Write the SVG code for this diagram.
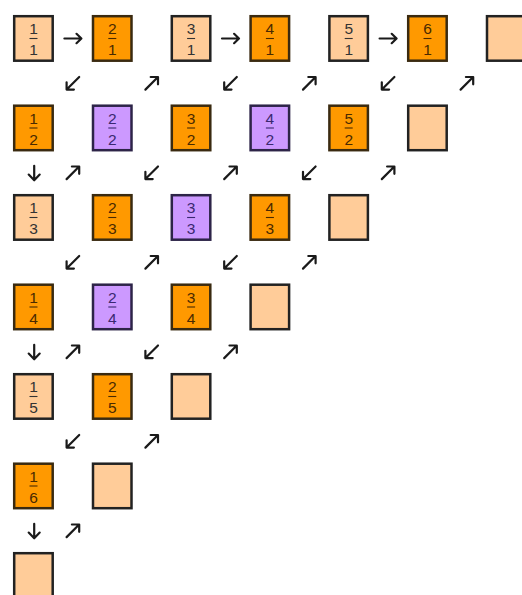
<svg xmlns="http://www.w3.org/2000/svg" xmlns:xlink="http://www.w3.org/1999/xlink" width="522" height="595" viewBox="0 0 522 595">
<style>
.box rect{stroke-width:2.5}
.l rect{fill:#FFCC99;stroke:#222}
.o rect{fill:#FF9900;stroke:#3a2a10}
.p rect{fill:#CC99FF;stroke:#2d2448}
.box text{font-family:"Liberation Sans",Arial,sans-serif;font-size:15.5px;text-anchor:middle}
.l text{fill:#333}
.o text{fill:#4a2a00}
.p text{fill:#3a2870}
.box line{stroke-width:1.1}
.l line{stroke:#333}
.o line{stroke:#4a2a00}
.p line{stroke:#3a2870}
.arr path{fill:none;stroke:#1a1a1a;stroke-width:2.2;stroke-linecap:round;stroke-linejoin:round}
</style>
<defs>
<g id="aR" class="arr"><path d="M-8.5,0H8.3M3.6,-4.7L8.5,0L3.6,4.7"/></g>
<g id="aD" class="arr"><path d="M0,-7V7.3M-5.5,1.8L0,7.5L5.5,1.8"/></g>
<g id="aSW" class="arr"><path d="M6.3,-6.3L-6,6M-6.3,-1V6.3H1"/></g>
<g id="aNE" class="arr"><path d="M-6.3,6.3L6,-6M-1,-6.3H6.3V1"/></g>
</defs>
<rect width="522" height="595" fill="#fff"/>
<g id="connectors">
<use xlink:href="#aR" x="72.9" y="38.5"/>
<use xlink:href="#aR" x="230.5" y="38.5"/>
<use xlink:href="#aR" x="388.1" y="38.5"/>
<use xlink:href="#aSW" x="72.9" y="83.3"/>
<use xlink:href="#aNE" x="151.7" y="83.3"/>
<use xlink:href="#aSW" x="230.5" y="83.3"/>
<use xlink:href="#aNE" x="309.3" y="83.3"/>
<use xlink:href="#aSW" x="388.1" y="83.3"/>
<use xlink:href="#aNE" x="466.9" y="83.3"/>
<use xlink:href="#aD" x="34.2" y="172.8"/>
<use xlink:href="#aNE" x="72.9" y="172.8"/>
<use xlink:href="#aSW" x="151.7" y="172.8"/>
<use xlink:href="#aNE" x="230.5" y="172.8"/>
<use xlink:href="#aSW" x="309.3" y="172.8"/>
<use xlink:href="#aNE" x="388.1" y="172.8"/>
<use xlink:href="#aSW" x="72.9" y="262.3"/>
<use xlink:href="#aNE" x="151.7" y="262.3"/>
<use xlink:href="#aSW" x="230.5" y="262.3"/>
<use xlink:href="#aNE" x="309.3" y="262.3"/>
<use xlink:href="#aD" x="34.2" y="351.8"/>
<use xlink:href="#aNE" x="72.9" y="351.8"/>
<use xlink:href="#aSW" x="151.7" y="351.8"/>
<use xlink:href="#aNE" x="230.5" y="351.8"/>
<use xlink:href="#aSW" x="72.9" y="441.3"/>
<use xlink:href="#aNE" x="151.7" y="441.3"/>
<use xlink:href="#aD" x="34.2" y="530.8"/>
<use xlink:href="#aNE" x="72.9" y="530.8"/>
</g>
<!-- row 1 -->
<g id="n1_1" class="box l"><rect x="14.2" y="16.2" width="38.5" height="44.5"/><text x="33.5" y="34">1</text><line x1="29.5" y1="38.5" x2="37.5" y2="38.5"/><text x="33.5" y="55">1</text></g>
<g id="n2_1" class="box o"><rect x="93" y="16.2" width="38.5" height="44.5"/><text x="112.3" y="34">2</text><line x1="108.3" y1="38.5" x2="116.3" y2="38.5"/><text x="112.3" y="55">1</text></g>
<g id="n3_1" class="box l"><rect x="171.8" y="16.2" width="38.5" height="44.5"/><text x="191.1" y="34">3</text><line x1="187.1" y1="38.5" x2="195.1" y2="38.5"/><text x="191.1" y="55">1</text></g>
<g id="n4_1" class="box o"><rect x="250.6" y="16.2" width="38.5" height="44.5"/><text x="269.9" y="34">4</text><line x1="265.9" y1="38.5" x2="273.9" y2="38.5"/><text x="269.9" y="55">1</text></g>
<g id="n5_1" class="box l"><rect x="329.4" y="16.2" width="38.5" height="44.5"/><text x="348.7" y="34">5</text><line x1="344.7" y1="38.5" x2="352.7" y2="38.5"/><text x="348.7" y="55">1</text></g>
<g id="n6_1" class="box o"><rect x="408.2" y="16.2" width="38.5" height="44.5"/><text x="427.5" y="34">6</text><line x1="423.5" y1="38.5" x2="431.5" y2="38.5"/><text x="427.5" y="55">1</text></g>
<g id="n7_1" class="box l"><rect x="487" y="16.2" width="38.5" height="44.5"/></g>
<!-- row 2 -->
<g id="n1_2" class="box o"><rect x="14.2" y="105.7" width="38.5" height="44.5"/><text x="33.5" y="123.5">1</text><line x1="29.5" y1="128" x2="37.5" y2="128"/><text x="33.5" y="144.5">2</text></g>
<g id="n2_2" class="box p"><rect x="93" y="105.7" width="38.5" height="44.5"/><text x="112.3" y="123.5">2</text><line x1="108.3" y1="128" x2="116.3" y2="128"/><text x="112.3" y="144.5">2</text></g>
<g id="n3_2" class="box o"><rect x="171.8" y="105.7" width="38.5" height="44.5"/><text x="191.1" y="123.5">3</text><line x1="187.1" y1="128" x2="195.1" y2="128"/><text x="191.1" y="144.5">2</text></g>
<g id="n4_2" class="box p"><rect x="250.6" y="105.7" width="38.5" height="44.5"/><text x="269.9" y="123.5">4</text><line x1="265.9" y1="128" x2="273.9" y2="128"/><text x="269.9" y="144.5">2</text></g>
<g id="n5_2" class="box o"><rect x="329.4" y="105.7" width="38.5" height="44.5"/><text x="348.7" y="123.5">5</text><line x1="344.7" y1="128" x2="352.7" y2="128"/><text x="348.7" y="144.5">2</text></g>
<g id="n6_2" class="box l"><rect x="408.2" y="105.7" width="38.5" height="44.5"/></g>
<!-- row 3 -->
<g id="n1_3" class="box l"><rect x="14.2" y="195.2" width="38.5" height="44.5"/><text x="33.5" y="213">1</text><line x1="29.5" y1="217.5" x2="37.5" y2="217.5"/><text x="33.5" y="234">3</text></g>
<g id="n2_3" class="box o"><rect x="93" y="195.2" width="38.5" height="44.5"/><text x="112.3" y="213">2</text><line x1="108.3" y1="217.5" x2="116.3" y2="217.5"/><text x="112.3" y="234">3</text></g>
<g id="n3_3" class="box p"><rect x="171.8" y="195.2" width="38.5" height="44.5"/><text x="191.1" y="213">3</text><line x1="187.1" y1="217.5" x2="195.1" y2="217.5"/><text x="191.1" y="234">3</text></g>
<g id="n4_3" class="box o"><rect x="250.6" y="195.2" width="38.5" height="44.5"/><text x="269.9" y="213">4</text><line x1="265.9" y1="217.5" x2="273.9" y2="217.5"/><text x="269.9" y="234">3</text></g>
<g id="n5_3" class="box l"><rect x="329.4" y="195.2" width="38.5" height="44.5"/></g>
<!-- row 4 -->
<g id="n1_4" class="box o"><rect x="14.2" y="284.7" width="38.5" height="44.5"/><text x="33.5" y="302.5">1</text><line x1="29.5" y1="307" x2="37.5" y2="307"/><text x="33.5" y="323.5">4</text></g>
<g id="n2_4" class="box p"><rect x="93" y="284.7" width="38.5" height="44.5"/><text x="112.3" y="302.5">2</text><line x1="108.3" y1="307" x2="116.3" y2="307"/><text x="112.3" y="323.5">4</text></g>
<g id="n3_4" class="box o"><rect x="171.8" y="284.7" width="38.5" height="44.5"/><text x="191.1" y="302.5">3</text><line x1="187.1" y1="307" x2="195.1" y2="307"/><text x="191.1" y="323.5">4</text></g>
<g id="n4_4" class="box l"><rect x="250.6" y="284.7" width="38.5" height="44.5"/></g>
<!-- row 5 -->
<g id="n1_5" class="box l"><rect x="14.2" y="374.2" width="38.5" height="44.5"/><text x="33.5" y="392">1</text><line x1="29.5" y1="396.5" x2="37.5" y2="396.5"/><text x="33.5" y="413">5</text></g>
<g id="n2_5" class="box o"><rect x="93" y="374.2" width="38.5" height="44.5"/><text x="112.3" y="392">2</text><line x1="108.3" y1="396.5" x2="116.3" y2="396.5"/><text x="112.3" y="413">5</text></g>
<g id="n3_5" class="box l"><rect x="171.8" y="374.2" width="38.5" height="44.5"/></g>
<!-- row 6 -->
<g id="n1_6" class="box o"><rect x="14.2" y="463.7" width="38.5" height="44.5"/><text x="33.5" y="481.5">1</text><line x1="29.5" y1="486" x2="37.5" y2="486"/><text x="33.5" y="502.5">6</text></g>
<g id="n2_6" class="box l"><rect x="93" y="463.7" width="38.5" height="44.5"/></g>
<!-- row 7 -->
<g id="n1_7" class="box l"><rect x="14.2" y="553.2" width="38.5" height="44.5"/></g>
</svg>
